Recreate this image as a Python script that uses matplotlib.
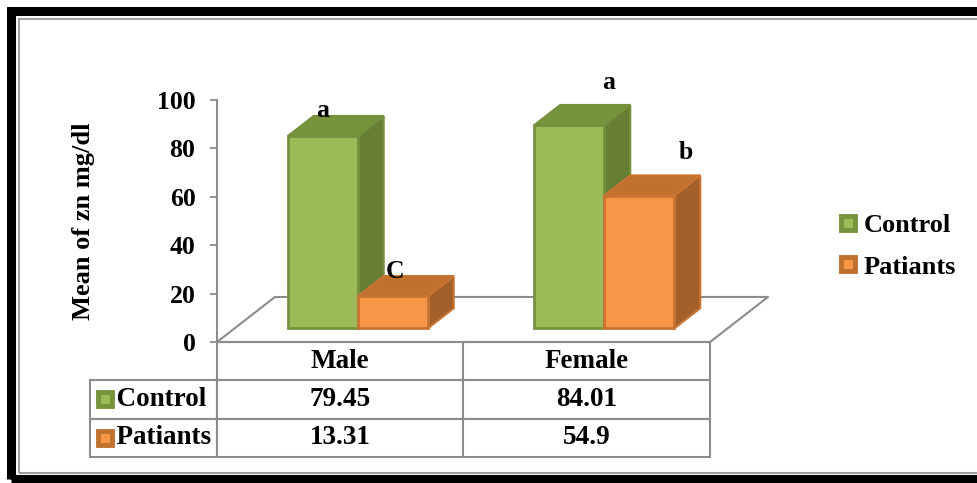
import numpy as np
import matplotlib
matplotlib.use("Agg")
from matplotlib import pyplot as plt
from matplotlib.patches import Rectangle
from matplotlib.lines import Line2D
from matplotlib.table import Table

# data
groups = ["Male", "Female"]
series = ["Control", "Patiants"]
control = [79.45, 84.01]
patients = [13.31, 54.9]
letters_control = ["a", "a"]
letters_patients = ["C", "b"]

# style
front_cols = ["#9BBB59", "#F79646"]
top_cols = ["#77933C", "#C0712F"]
side_cols = ["#677F34", "#A3602A"]
edge_cols = ["#76913E", "#C87533"]
grey = "#8C8C8C"
font = "Liberation Serif"
plt.rcParams["font.family"] = font
plt.rcParams["font.weight"] = "bold"

fig = plt.figure(figsize=(9.77, 4.83), dpi=100)
ax = fig.add_axes([217/977, (483-342)/483, 551/977, 242/483])

# 3d look: floor depth in data units, bars placed part way in
floor_dx, floor_dy = 0.235, 18.6
z0 = 0.30        # depth where bars start (fraction of floor)
zd = 0.45        # bar depth (fraction of floor)
bw = 0.284       # bar width
sx, base = z0*floor_dx, z0*floor_dy
dx, dy = zd*floor_dx, zd*floor_dy

x = np.arange(len(groups))
fx = [-0.5, 1.5, 1.5+floor_dx, -0.5+floor_dx, -0.5]
fy = [0, 0, floor_dy, floor_dy, 0]
ax.plot(fx, fy, color=grey, lw=1.5, zorder=1, clip_on=False)

# letter offsets (layout only)
let_off = {("Control", 0): (0.0, 10.5), ("Patiants", 0): (0.01, 10.4),
           ("Control", 1): (0.16, 17.8), ("Patiants", 1): (0.19, 18.0)}

z = 2
for i in range(len(groups)):
    for k, (vals, lets) in enumerate([(control, letters_control), (patients, letters_patients)]):
        x0 = x[i] - bw + sx + k*bw
        x1 = x0 + bw
        t = base + vals[i]
        ax.fill([x1, x1+dx, x1+dx, x1], [base, base+dy, t+dy, t], color=side_cols[k],
                ec=edge_cols[k], lw=1.5, zorder=z, clip_on=False)
        ax.fill([x0, x1, x1+dx, x0+dx], [t, t, t+dy, t+dy], color=top_cols[k],
                ec=edge_cols[k], lw=1.5, zorder=z, clip_on=False)
        ax.bar(x0, vals[i], width=bw, bottom=base, align="edge", color=front_cols[k],
               edgecolor=edge_cols[k], lw=2, zorder=z+0.5, clip_on=False)
        ox, oy = let_off[(series[k], i)]
        ax.text(x0 + bw/2 + ox, t + oy, lets[i], ha="center", va="center",
                fontsize=18.5, fontweight="bold", zorder=10)
        z += 1

ax.set_xlim(-0.5, 1.5 + floor_dx)
ax.set_ylim(0, 100)
ax.set_yticks(range(0, 101, 20))
ax.set_xticks([])
for s in ["top", "right", "bottom"]:
    ax.spines[s].set_visible(False)
ax.spines["left"].set_color(grey)
ax.spines["left"].set_linewidth(1.5)
ax.tick_params(axis="y", direction="out", length=5, width=1.3, color=grey, pad=10.5, labelsize=18.5)
for lab in ax.get_yticklabels():
    lab.set_fontweight("bold")
ax.set_ylabel("Mean of zn mg/dl", fontsize=19, fontweight="bold")
ax.yaxis.set_label_coords((95-217)/551, 0.5)
ax.patch.set_visible(False)

# data table under the chart
tab = Table(ax, bbox=[(90-217)/551, -115/242, 620/551, 115/242])
col_w = [127/551, 246/551, 247/551]
row_h = 1/3
rows = [[""] + groups,
        ["  " + series[0]] + ["%g" % v for v in control],
        ["  " + series[1]] + ["%g" % v for v in patients]]
for r, row in enumerate(rows):
    for c, txt in enumerate(row):
        cell = tab.add_cell(r, c, width=col_w[c], height=row_h, text=txt,
                            loc="left" if c == 0 else "center")
        cell.set_edgecolor(grey)
        cell.set_linewidth(1.5)
        cell.get_text().set_fontweight("bold")
        cell.get_text().set_fontfamily(font)
        if r == 0 and c == 0:
            cell.visible_edges = ""
tab.auto_set_font_size(False)
tab.set_fontsize(19.5)
ax.add_table(tab)

row_y = [-(398.5-342)/242, -(437.5-342)/242]
for k in range(len(series)):
    ax.plot([(104.5-217)/551], [row_y[k]], marker="s", ms=9.5, mew=3.5, ls="none",
            mfc=front_cols[k], mec=top_cols[k], transform=ax.transAxes, clip_on=False, zorder=10)

# legend
handles = [Line2D([], [], marker="s", ls="none", ms=9.5, mew=3.5, mfc=front_cols[k], mec=top_cols[k])
           for k in range(len(series))]
fig.legend(handles, series, loc="center left", bbox_to_anchor=(837/977, 1-246/483),
           frameon=False, handlelength=0.8, handletextpad=0.2, borderpad=0, borderaxespad=0,
           labelspacing=0.7, prop={"family": font, "weight": "bold", "size": 19})

# outer frame
fig.add_artist(Rectangle((11/977, 4/483), 1.05, (479-11)/483, transform=fig.transFigure,
                         fill=False, ec="black", lw=6.5))
fig.add_artist(Rectangle((19/977, (483-473)/483), 1.05, (473-18.5)/483, transform=fig.transFigure,
                         fill=False, ec="#A0A0A0", lw=1.5))

fig.savefig("out.png", dpi=100)
